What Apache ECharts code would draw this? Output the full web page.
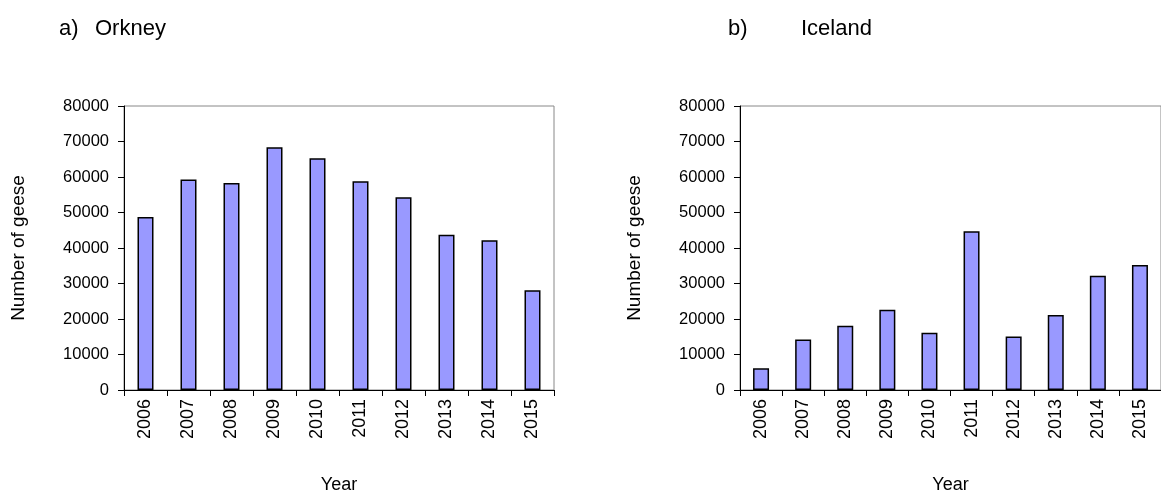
<!DOCTYPE html>
<html>
<head>
<meta charset="utf-8">
<script src="https://cdn.jsdelivr.net/npm/echarts@6/dist/echarts.min.js"></script>
<style>
  html, body { margin: 0; padding: 0; background: #fff; }
  #chart { width: 1161px; height: 499px; }
</style>
</head>
<body>
<div id="chart"></div>
<script>
// Goose counts per year at the two sites
const years = ['2006', '2007', '2008', '2009', '2010', '2011', '2012', '2013', '2014', '2015'];
const orkney = [48700, 59300, 58300, 68400, 65300, 58800, 54300, 43700, 42200, 28100];
const iceland = [6100, 14200, 18100, 22600, 16100, 44700, 15100, 21100, 32200, 35200];
const yTicks = { min: 0, max: 80000, interval: 10000 };

const FONT = '"Liberation Sans", Arial, sans-serif';
const BAR_FILL = '#9999ff';

function xAxisFor(gridIndex) {
  return {
    type: 'category',
    gridIndex,
    data: years,
    name: 'Year',
    nameLocation: 'middle',
    nameGap: 86,
    nameTextStyle: { color: '#000', fontSize: 18, fontFamily: FONT },
    axisLine: { lineStyle: { color: '#000', width: 1 } },
    axisTick: { show: true, length: 6, lineStyle: { color: '#000' } },
    axisLabel: { rotate: 90, margin: 9, color: '#000', fontSize: 18, fontFamily: FONT, interval: 0 },
    splitLine: { show: false }
  };
}

function yAxisFor(gridIndex) {
  return {
    type: 'value',
    gridIndex,
    min: yTicks.min,
    max: yTicks.max,
    interval: yTicks.interval,
    name: 'Number of geese',
    nameLocation: 'middle',
    nameGap: 96,
    nameTextStyle: { color: '#000', fontSize: 19, fontFamily: FONT },
    axisLine: { show: true, lineStyle: { color: '#000', width: 1 } },
    axisTick: { show: true, length: 6, lineStyle: { color: '#000' } },
    axisLabel: { margin: 15, color: '#000', fontSize: 16.5, fontFamily: FONT, formatter: v => String(v) },
    splitLine: { show: false }
  };
}

function barSeries(idx, values) {
  return {
    type: 'bar',
    xAxisIndex: idx,
    yAxisIndex: idx,
    data: values,
    barWidth: 16,
    itemStyle: { color: BAR_FILL, borderColor: '#000', borderWidth: 1.5 },
    silent: true,
    animation: false
  };
}

const titleStyle = { color: '#000', fontSize: 22, fontWeight: 'normal', fontFamily: FONT };

const chart = echarts.init(document.getElementById('chart'), null, { renderer: 'canvas' });
chart.setOption({
  backgroundColor: '#fff',
  animation: false,
  title: [
    { text: 'a)', left: 59, top: 18, padding: 0, textStyle: titleStyle },
    { text: 'Orkney', left: 95, top: 18, padding: 0, textStyle: titleStyle },
    { text: 'b)', left: 728, top: 18, padding: 0, textStyle: titleStyle },
    { text: 'Iceland', left: 801, top: 18, padding: 0, textStyle: titleStyle }
  ],
  grid: [
    { left: 124, top: 106, width: 430, height: 288, show: true, borderColor: '#888', borderWidth: 1, containLabel: false },
    { left: 740, top: 106, width: 430, height: 288, show: true, borderColor: '#888', borderWidth: 1, containLabel: false }
  ],
  xAxis: [xAxisFor(0), xAxisFor(1)],
  yAxis: [yAxisFor(0), yAxisFor(1)],
  series: [barSeries(0, orkney), barSeries(1, iceland)]
});
</script>
</body>
</html>
